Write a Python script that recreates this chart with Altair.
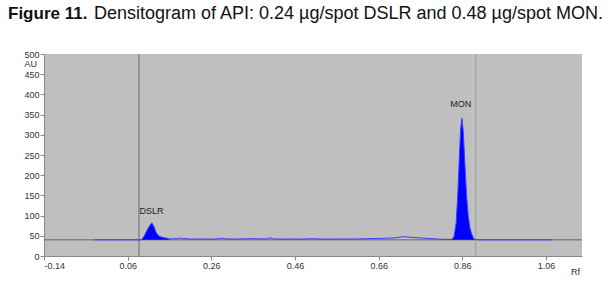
import altair as alt
import pandas as pd

# ---- data ----
rf = [-0.02, 0.09, 0.094, 0.100, 0.106, 0.112, 0.118, 0.123, 0.128, 0.134, 0.140, 0.148, 0.155, 0.159,
      0.165, 0.170, 0.176, 0.181, 0.186, 0.192, 0.197, 0.203, 0.21, 0.24, 0.27, 0.285, 0.29, 0.30,
      0.32, 0.36, 0.39, 0.40, 0.41, 0.44, 0.48, 0.50, 0.52, 0.55, 0.60, 0.64, 0.68, 0.70, 0.72,
      0.74, 0.77, 0.80, 0.82, 0.835, 0.840, 0.845, 0.849, 0.853, 0.856, 0.859, 0.862, 0.866, 0.870,
      0.874, 0.878, 0.882, 0.886, 0.889, 0.90, 1.075]
au = [40, 40, 41, 50, 63, 74, 82, 72, 58, 50, 47, 45, 44, 42,
      43, 42, 44, 43, 45, 42, 44, 42, 42, 42, 42, 44, 43, 42,
      42, 43, 42, 45, 42, 42, 42, 43, 42, 42, 42, 43, 44, 45, 48,
      46, 44, 42, 41, 41, 48, 80, 150, 250, 315, 341, 310, 230, 150,
      100, 70, 55, 46, 41, 40, 40]

peak_ranges = [(0.094, 0.159), (0.835, 0.889)]
peak_names = ["DSLR", "MON"]
label_rf = [0.117, 0.856]
label_au = [112, 376]
marker_rf = [0.087, 0.892]
baseline_au = [40]

x_ticks = [-0.14, 0.06, 0.26, 0.46, 0.66, 0.86, 1.06]
y_ticks = [0, 50, 100, 150, 200, 250, 300, 350, 400, 450, 500]

df = pd.DataFrame({"rf": rf, "au": au})
df["base"] = baseline_au[0]
df["peak"] = df["rf"].apply(lambda v: any(a <= v <= b for a, b in peak_ranges))

labels = pd.DataFrame({"rf": label_rf, "au": label_au, "name": peak_names})
markers = pd.DataFrame({"rf": marker_rf})
base_df = pd.DataFrame({"au": baseline_au})

X0, X1 = -0.14, 1.146
xs = alt.Scale(domain=[X0, X1], nice=False, zero=False)
ys = alt.Scale(domain=[0, 500], nice=False)

FONT = "Liberation Sans"

xax = alt.Axis(values=x_ticks, labelExpr="replace(format(datum.value, '.2f'), '−', '-')",
               title=None, grid=False)
yax = alt.Axis(values=y_ticks, title=None, grid=False)

X = alt.X("rf:Q", scale=xs, axis=xax)
Y = alt.Y("au:Q", scale=ys, axis=yax)

hline = alt.Chart(base_df).mark_rule(color="#666666", strokeWidth=1).encode(y=Y)

vlines = alt.Chart(markers).mark_rule(strokeWidth=1).encode(
    x=X,
    color=alt.Color("rf:N", scale=alt.Scale(range=["#5f7273", "#8fa3a4"]), legend=None),
)

fill = alt.Chart(df).transform_filter("datum.peak").transform_calculate(
    grp="datum.rf < 0.5 ? 'a' : 'b'"
).mark_area(color="#0000ff", opacity=1).encode(
    x=X, y=Y, y2="base:Q", detail=alt.Detail("grp:N")
)

line = alt.Chart(df).mark_line(color="#3b3bff", strokeWidth=1).encode(x=X, y=Y)

lbl = alt.Chart(labels).mark_text(fontSize=9, font=FONT, color="#222222").encode(
    x=X, y=Y, text="name:N"
)

au_lbl = alt.Chart(base_df).mark_text(text="AU", fontSize=9, font=FONT,
                                      color="#333333", align="right").encode(
    x=alt.value(-7), y=alt.value(10))
rf_lbl = alt.Chart(base_df).mark_text(text="Rf", fontSize=9, font=FONT,
                                      color="#333333", align="left").encode(
    x=alt.value(527), y=alt.value(218))
t1 = alt.Chart(base_df).mark_text(text="Figure 11.", fontSize=17, fontWeight="bold",
                                  font=FONT, color="#111111", align="left",
                                  baseline="alphabetic").encode(
    x=alt.value(-36), y=alt.value(-35))
t2 = alt.Chart(base_df).mark_text(text="Densitogram of API: 0.24 µg/spot DSLR and 0.48 µg/spot MON.",
                                  fontSize=18, font=FONT, color="#111111", align="left",
                                  baseline="alphabetic").encode(
    x=alt.value(50), y=alt.value(-35))

chart = alt.layer(hline, vlines, fill, line, lbl, au_lbl, rf_lbl, t1, t2).properties(
    width=538, height=202,
    background="white",
    autosize=alt.AutoSizeParams(type="none"),
    padding={"left": 44, "top": 54, "right": 34, "bottom": 27},
).configure_view(
    fill="#bfbfbf", stroke=None
).configure_axis(
    labelFontSize=9, labelColor="#333333", domainColor="#888888", tickColor="#888888",
    tickSize=4, labelFont=FONT, labelPadding=1, labelOverlap=False
)

chart.save("out.html", embed_options={"renderer": "svg", "actions": False})
